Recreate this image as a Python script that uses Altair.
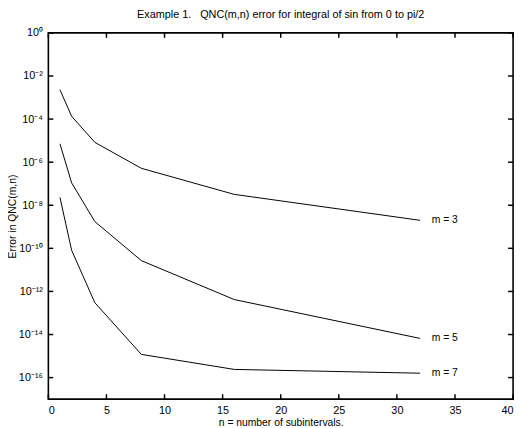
import altair as alt
import pandas as pd

n_vals = [1, 2, 4, 8, 16, 32]
err_m3 = [2.3e-3, 1.35e-4, 8.3e-6, 5.2e-7, 3.2e-8, 2.0e-9]
err_m5 = [7.1e-6, 1.1e-7, 1.75e-9, 2.7e-11, 4.2e-13, 6.6e-15]
err_m7 = [2.3e-8, 8.2e-11, 3.0e-13, 1.2e-15, 2.4e-16, 1.6e-16]
series_names = ["m = 3", "m = 5", "m = 7"]
label_x = [33, 33, 33]
x_ticks = [0, 5, 10, 15, 20, 25, 30, 35, 40]
y_exps = [0, -2, -4, -6, -8, -10, -12, -14, -16]
y_ticks = [10.0 ** k for k in y_exps]
sup = {"0": "\u2070", "1": "\u00b9", "2": "\u00b2", "3": "\u00b3", "4": "\u2074",
       "5": "\u2075", "6": "\u2076", "7": "\u2077", "8": "\u2078", "9": "\u2079", "-": "\u207b"}
y_labels = ["10" + "".join(sup[c] for c in str(k)) for k in y_exps]

W, H = 472, 372
TICK = 5

rows = []
for name, errs in zip(series_names, [err_m3, err_m5, err_m7]):
    for n, e in zip(n_vals, errs):
        rows.append({"m": name, "n": n, "err": e})
df = pd.DataFrame(rows)
lab = pd.DataFrame({"m": series_names, "x": label_x,
                    "err": [err_m3[-1], err_m5[-1], err_m7[-1]]})
xt = pd.DataFrame({"t": x_ticks})
yt = pd.DataFrame({"t": y_ticks})

parts = [f"abs(log(datum.value)/LN10 - ({k})) < 0.01 ? '{l}'" for k, l in zip(y_exps, y_labels)]
label_expr = " : ".join(parts) + " : ''"

FONT = "Liberation Sans"
xscale = alt.Scale(domain=[0, 40], nice=False, zero=False)
yscale = alt.Scale(type="log", domain=[1e-17, 1], nice=False)

lines = alt.Chart(df).mark_line(color="black", strokeWidth=1).encode(
    x=alt.X("n:Q", scale=xscale,
            axis=alt.Axis(orient="bottom", values=x_ticks, title="n = number of subintervals.",
                          ticks=False, domain=False, grid=False, labelPadding=6,
                          labelFontSize=11, titleFontSize=10.5, titleFontWeight="normal",
                          titlePadding=2, labelColor="black", titleColor="black",
                          labelFont=FONT, titleFont=FONT)),
    y=alt.Y("err:Q", scale=yscale,
            axis=alt.Axis(orient="left", values=y_ticks, labelExpr=label_expr,
                          title="Error in QNC(m,n)", ticks=False, domain=False, grid=False,
                          labelPadding=6, labelFontSize=11, titleFontSize=10.5,
                          titleFontWeight="normal", titleX=-36, titleBaseline="middle",
                          labelColor="black", titleColor="black",
                          labelFont=FONT, titleFont=FONT)),
    detail="m:N",
)

texts = alt.Chart(lab).mark_text(align="left", baseline="middle", fontSize=10.5,
                                 font=FONT, color="black").encode(
    x=alt.X("x:Q", scale=xscale),
    y=alt.Y("err:Q", scale=yscale),
    text="m:N",
)

# inward axis ticks drawn at the tick values
tick_style = dict(color="black", strokeWidth=1.5, opacity=1)
bottom_ticks = alt.Chart(xt).mark_rule(**tick_style).encode(
    x=alt.X("t:Q", scale=xscale), y=alt.value(H - TICK), y2=alt.value(H))
top_ticks = alt.Chart(xt).mark_rule(**tick_style).encode(
    x=alt.X("t:Q", scale=xscale), y=alt.value(0), y2=alt.value(TICK))
left_ticks = alt.Chart(yt).mark_rule(**tick_style).encode(
    y=alt.Y("t:Q", scale=yscale), x=alt.value(0), x2=alt.value(TICK))
right_ticks = alt.Chart(yt).mark_rule(**tick_style).encode(
    y=alt.Y("t:Q", scale=yscale), x=alt.value(W - TICK), x2=alt.value(W))

chart = alt.layer(lines, texts, bottom_ticks, top_ticks, left_ticks, right_ticks).properties(
    width=W, height=H,
    title=alt.TitleParams("Example 1.\u00a0\u00a0 QNC(m,n) error for integral of sin from 0 to pi/2",
                          fontSize=11, fontWeight="normal", font=FONT, color="black",
                          anchor="middle", offset=7),
    autosize=alt.AutoSizeParams(type="none"),
    padding={"left": 41, "top": 22, "right": 4, "bottom": 26},
).configure_view(stroke="black", strokeWidth=1.6)

chart.save("out.html", embed_options={"renderer": "svg", "actions": False})
